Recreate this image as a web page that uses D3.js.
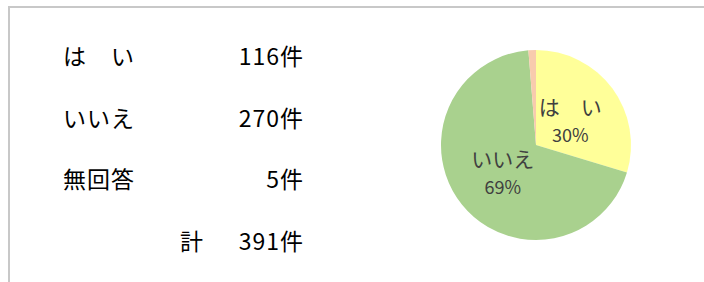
<html>
    <head>
        <meta charset="utf-8">
        <style>
            body { margin: 0; background: #fff; }
            text { font-family: "Noto Sans CJK JP", sans-serif; }
            .tbl { font-size: 23px; letter-spacing: 1px; fill: #000; }
            .plab { fill: #404040; }
        </style>
    </head>
    <body>
        <svg></svg>
        <script src="https://d3js.org/d3.v7.min.js"></script>
        <script>
            // data
            const categories = ["は　い", "いいえ", "無回答"];
            const counts = [116, 270, 5];
            const colors = ["#FFFF99", "#A9D18E", "#F8CBAD"];
            const totalLabel = "計";

            const width = 704, height = 282;
            const total = d3.sum(counts);

            const svg = d3.select("svg")
                .attr("width", width)
                .attr("height", height);

            // frame lines
            svg.append("line")
                .attr("x1", 9).attr("y1", 7).attr("x2", width).attr("y2", 7)
                .attr("stroke", "#c8c8c8").attr("stroke-width", 2);
            svg.append("line")
                .attr("x1", 9).attr("y1", 6).attr("x2", 9).attr("y2", height)
                .attr("stroke", "#c8c8c8").attr("stroke-width", 2);

            // table on the left
            const rowY = d3.scalePoint()
                .domain(d3.range(categories.length + 1))
                .range([55, 240]);

            const rows = svg.append("g");
            categories.forEach(function(c, i) {
                rows.append("text")
                    .attr("class", "tbl")
                    .attr("x", 63)
                    .attr("y", rowY(i))
                    .attr("dominant-baseline", "central")
                    .text(c);
                rows.append("text")
                    .attr("class", "tbl")
                    .attr("x", 304)
                    .attr("y", rowY(i))
                    .attr("dominant-baseline", "central")
                    .attr("text-anchor", "end")
                    .text(counts[i] + "件");
            });
            rows.append("text")
                .attr("class", "tbl")
                .attr("x", 180)
                .attr("y", rowY(categories.length))
                .attr("dominant-baseline", "central")
                .text(totalLabel);
            rows.append("text")
                .attr("class", "tbl")
                .attr("x", 304)
                .attr("y", rowY(categories.length))
                .attr("dominant-baseline", "central")
                .attr("text-anchor", "end")
                .text(total + "件");

            // pie on the right
            const cx = 536, cy = 145, r = 95;
            const pie = d3.pie().sort(null).value(function(d) { return d; });
            const arcs = pie(counts);
            const arc = d3.arc().innerRadius(0).outerRadius(r);

            const g = svg.append("g").attr("transform", "translate(" + cx + "," + cy + ")");
            g.selectAll("path")
                .data(arcs)
                .join("path")
                .attr("d", arc)
                .attr("fill", function(d, i) { return colors[i]; });

            // labels for the two big slices
            const labelArc = d3.arc().innerRadius(r * 0.45).outerRadius(r * 0.45);
            const lab = g.selectAll(".lab")
                .data(arcs.filter(function(d) { return d.value > 20; }))
                .join("g")
                .attr("class", "lab")
                .attr("transform", function(d) {
                    const p = labelArc.centroid(d);
                    return "translate(" + p[0] + "," + p[1] + ")";
                });
            lab.append("text")
                .attr("class", "plab")
                .attr("text-anchor", "middle")
                .attr("dominant-baseline", "central")
                .attr("y", -14)
                .attr("font-size", 21)
                .text(function(d) { return categories[d.index]; });
            lab.append("text")
                .attr("class", "plab")
                .attr("text-anchor", "middle")
                .attr("dominant-baseline", "central")
                .attr("y", 14)
                .attr("font-size", 18)
                .text(function(d) { return Math.round(d.value / total * 100) + "%"; });
        </script>
    </body>
</html>
